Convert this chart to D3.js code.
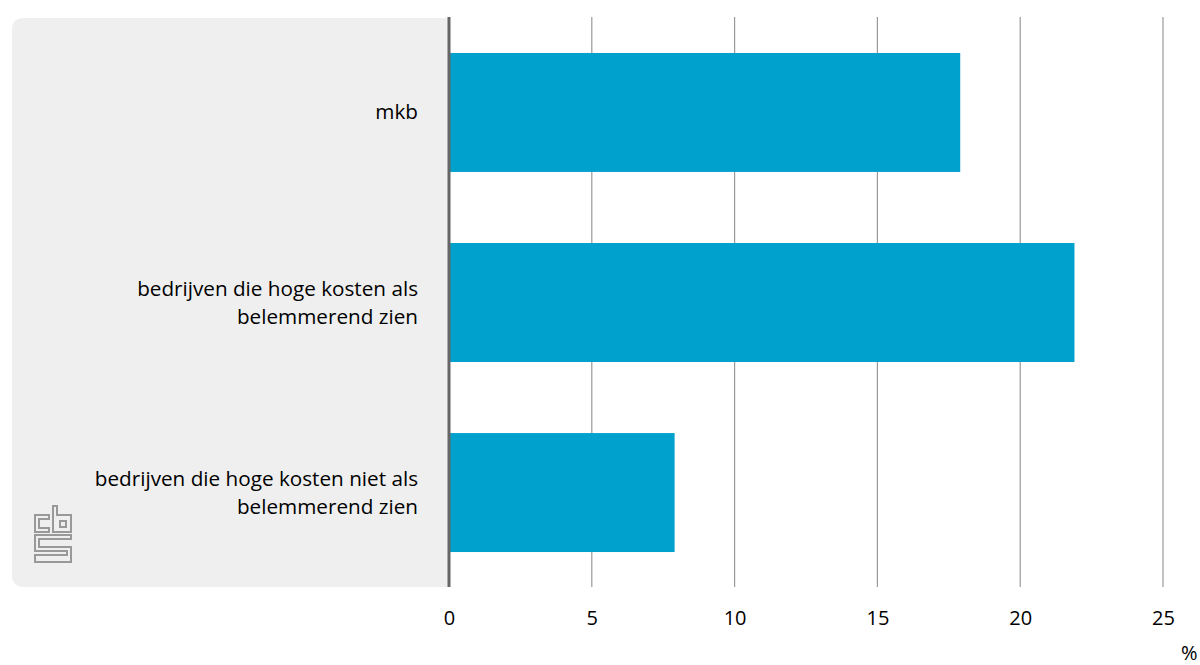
<!DOCTYPE html>
<html>
<head>
<meta charset="utf-8">
<script src="https://cdn.jsdelivr.net/npm/d3@7"></script>
<style>
  body { margin: 0; background: #fff; }
  svg { display: block; font-family: "Open Sans", sans-serif; }
</style>
</head>
<body>
<svg></svg>
<script>
const width = 1200;
const height = 665;

// data
const categories = ['mkb', 'bedrijven die hoge kosten als belemmerend zien', 'bedrijven die hoge kosten niet als belemmerend zien'];
const labelLines = [['mkb'], ['bedrijven die hoge kosten als', 'belemmerend zien'], ['bedrijven die hoge kosten niet als', 'belemmerend zien']];
const values = [17.9, 21.9, 7.9];
const ticks = [0, 5, 10, 15, 20, 25];

const plotTop = 18;
const plotBottom = 587;
const plotLeft = 449;
const plotRight = 1163;

let svg = d3.select('svg')
    .attr('width', width)
    .attr('height', height);

let xScale = d3.scaleLinear()
    .domain([0, 25])
    .range([plotLeft, plotRight]);

let yScale = d3.scaleBand()
    .domain(categories)
    .range([plotTop, plotBottom])
    .paddingInner(0.374)
    .paddingOuter(0.184);

// grey label panel, rounded on the left
const r = 12;
svg.append('path')
    .attr('d', `M${plotLeft},${plotTop} L${12 + r},${plotTop} Q12,${plotTop} 12,${plotTop + r} L12,${plotBottom - r} Q12,${plotBottom} ${12 + r},${plotBottom} L${plotLeft},${plotBottom} Z`)
    .attr('fill', '#efefef');

// gridlines
svg.append('g')
    .selectAll('line')
    .data(ticks.filter(d => d > 0))
    .enter()
    .append('line')
    .attr('x1', d => xScale(d))
    .attr('x2', d => xScale(d))
    .attr('y1', plotTop - 1)
    .attr('y2', plotBottom)
    .attr('stroke', '#999')
    .attr('stroke-width', 1.2);

// bars
svg.selectAll('rect.bar')
    .data(values)
    .enter()
    .append('rect')
    .attr('class', 'bar')
    .attr('x', xScale(0))
    .attr('y', (d, i) => yScale(categories[i]))
    .attr('width', d => xScale(d) - xScale(0))
    .attr('height', yScale.bandwidth())
    .attr('fill', '#00a1cd');

// zero line
svg.append('line')
    .attr('x1', xScale(0))
    .attr('x2', xScale(0))
    .attr('y1', plotTop - 1)
    .attr('y2', plotBottom)
    .attr('stroke', '#666')
    .attr('stroke-width', 3);

// x axis
let xAxis = d3.axisBottom(xScale)
    .tickValues(ticks)
    .tickSize(0)
    .tickPadding(0);

let gx = svg.append('g')
    .attr('transform', 'translate(0,' + (plotBottom + 24) + ')')
    .call(xAxis);
gx.select('.domain').remove();
gx.selectAll('text')
    .attr('font-family', '"Open Sans", sans-serif')
    .attr('font-size', 20)
    .attr('fill', '#000');

svg.append('text')
    .attr('x', 1181)
    .attr('y', 660)
    .attr('font-size', 20)
    .attr('fill', '#000')
    .text('%');

// category labels
const lineHeight = 28;
labelLines.forEach((lines, i) => {
    let cy = yScale(categories[i]) + yScale.bandwidth() / 2;
    let t = svg.append('text')
        .attr('text-anchor', 'end')
        .attr('font-size', 20.7)
        .attr('fill', '#000');
    lines.forEach((line, j) => {
        t.append('tspan')
            .attr('x', 418)
            .attr('y', cy + 7 + (j - (lines.length - 1) / 2) * lineHeight)
            .text(line);
    });
});

// cbs logo
let logo = svg.append('g')
    .attr('fill', 'none')
    .attr('stroke', '#999')
    .attr('stroke-width', 2);
logo.append('path')
    .attr('d', 'M49,515 L35,515 L35,532 L49,532 L49,528 L39,528 L39,519 L49,519 Z');
logo.append('path')
    .attr('d', 'M53,506 L57,506 L57,515 L71,515 L71,532 L53,532 Z M60,521 L66,521 L66,527 L60,527 Z');
logo.append('path')
    .attr('d', 'M71,535 L35,535 L35,551 L67,551 L67,555 L35,555 L35,562 L71,562 L71,547 L39,547 L39,539 L71,539 Z');
</script>
</body>
</html>
